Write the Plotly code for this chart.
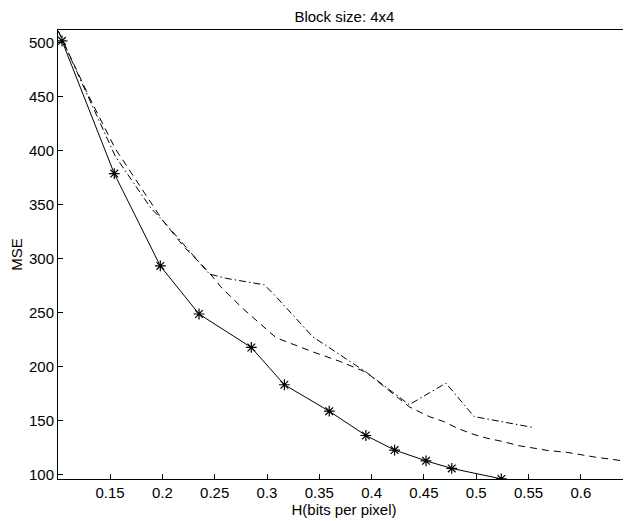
import plotly.graph_objects as go

# Solid line with star markers
h_solid = [0.104, 0.154, 0.198, 0.235, 0.285, 0.3166, 0.3595, 0.3945, 0.422, 0.452, 0.4766, 0.524]
mse_solid = [502, 379, 293.5, 249, 218, 183.5, 159, 136.5, 123, 113, 106, 96.3]

# Dashed line
h_dash = [0.1005, 0.13, 0.155, 0.18, 0.2, 0.22, 0.245, 0.256, 0.277, 0.3087, 0.3436, 0.37,
          0.395, 0.436, 0.455, 0.469, 0.482, 0.496, 0.51, 0.525, 0.541, 0.555, 0.569,
          0.586, 0.6, 0.614, 0.629, 0.647]
mse_dash = [511, 450, 402, 365, 336, 312, 287, 274, 254, 227, 214, 205,
            195, 163, 154, 149.4, 143.2, 138, 134, 131, 127, 124.8, 122.5,
            121, 118.5, 116.4, 114.5, 112]

# Dash-dot line
h_dashdot = [0.1005, 0.155, 0.189, 0.2, 0.245, 0.261, 0.2975, 0.3087, 0.3436, 0.395,
             0.436, 0.471, 0.498, 0.554]
mse_dashdot = [511, 395, 347, 336, 286, 282, 276, 265, 228, 195,
               165, 185, 154, 144]

x_ticks = [0.15, 0.2, 0.25, 0.3, 0.35, 0.4, 0.45, 0.5, 0.55, 0.6]
x_tick_text = ["0.15", "0.2", "0.25", "0.3", "0.35", "0.4", "0.45", "0.5", "0.55", "0.6"]
y_ticks = [100, 150, 200, 250, 300, 350, 400, 450, 500]

fig = go.Figure()
fig.add_trace(go.Scatter(x=h_dash, y=mse_dash, mode="lines",
                         line=dict(color="black", width=1, dash="7px,5px")))
fig.add_trace(go.Scatter(x=h_dashdot, y=mse_dashdot, mode="lines",
                         line=dict(color="black", width=1, dash="7px,3px,1.5px,3px")))
fig.add_trace(go.Scatter(x=h_solid, y=mse_solid, mode="lines+markers",
                         line=dict(color="black", width=1),
                         marker=dict(symbol="asterisk-open", size=9,
                                     line=dict(color="black", width=1.2))))

axis_common = dict(showline=True, linecolor="black", linewidth=1, mirror=True,
                   ticks="inside", ticklen=5, tickcolor="black", showgrid=False,
                   zeroline=False, automargin=False,
                   tickfont=dict(size=15, color="black"))

# the page body adds an ~8px offset, so the figure is sized to the remaining space
fig.update_layout(
    width=623, height=513,
    margin=dict(l=50, r=1, t=22, b=42),
    paper_bgcolor="white", plot_bgcolor="white",
    font=dict(family="Liberation Sans, Arial, sans-serif", size=15, color="black"),
    showlegend=False,
    title=dict(text="Block size: 4x4", x=0.54, xanchor="center", y=0.983, yanchor="middle",
               font=dict(size=15)),
    xaxis=dict(range=[0.1002, 0.647], tickvals=x_ticks, ticktext=x_tick_text,
               title=dict(text="H(bits per pixel)", standoff=0, font=dict(size=15)),
               **axis_common),
    yaxis=dict(range=[96.2, 512], tickvals=y_ticks,
               title=dict(text="MSE", standoff=2, font=dict(size=15)),
               **axis_common),
)

fig.write_html("out.html")
